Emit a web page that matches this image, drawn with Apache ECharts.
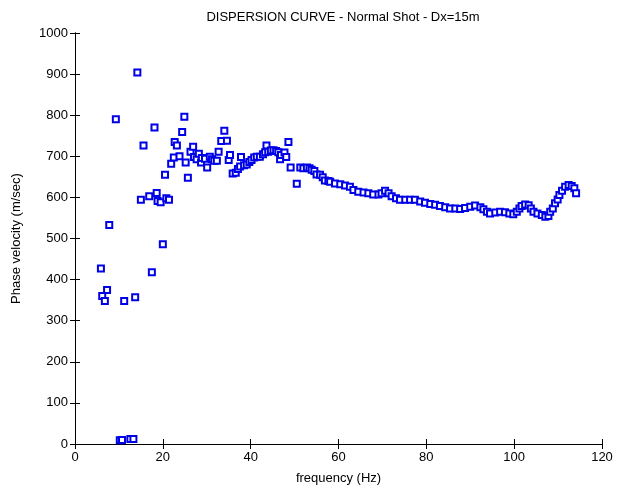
<!DOCTYPE html>
<html>
<head>
    <meta charset="utf-8">
    <script src="https://cdn.jsdelivr.net/npm/echarts@6/dist/echarts.min.js"></script>
</head>
<body style="margin:0;background:#fff">
    <div id="main" style="width:619px;height:491px"></div>

    <script type="text/javascript">
        // frequency (Hz) / phase velocity (m/sec)
        var freq = [5.9, 6.2, 6.8, 7.3, 7.8, 9.3, 10.2, 10.7, 11.2, 12.6, 13.3, 13.7, 14.2, 15.0, 15.6, 16.9, 17.5, 18.1, 18.6, 18.8,
            19.5, 20.0, 20.5, 20.8, 21.4, 21.9, 22.5, 22.7, 23.2, 23.8, 24.4, 24.9, 25.2, 25.7, 26.3, 26.9, 27.1, 27.7, 28.2, 28.7,
            28.9, 29.6, 30.1, 30.7, 31.2, 31.7, 32.3, 32.7, 33.3, 34.0, 34.6, 35.0, 35.3, 35.9, 36.6, 37.1, 37.6, 37.8, 38.5, 39.1,
            39.7, 40.2, 40.8, 41.4, 42.1, 42.8, 43.3, 43.6, 44.0, 44.6, 45.2, 45.8, 46.3, 46.7, 46.9, 47.7, 48.1, 48.6, 49.1, 50.5,
            51.3, 52.0, 52.8, 53.4, 53.9, 54.5, 55.0, 55.8, 56.4, 56.9, 57.7, 58.1, 59.2, 60.4, 61.5, 62.6, 63.4, 64.5, 65.7, 66.8,
            67.9, 69.1, 69.8, 70.6, 71.4, 72.1, 73.1, 74.0, 75.2, 76.3, 77.4, 78.6, 79.7, 80.9, 82.0, 83.1, 84.3, 85.4, 86.6, 87.7,
            88.8, 90.0, 91.1, 92.3, 93.0, 93.8, 94.5, 95.7, 96.8, 97.9, 98.9, 99.8, 100.6, 101.2, 101.7, 102.5, 103.3, 103.8, 104.4, 105.3,
            106.3, 107.1, 107.8, 108.2, 108.8, 109.3, 109.9, 110.3, 110.9, 111.6, 112.4, 113.1, 113.7, 114.1];
        var velocity = [427, 360, 348, 375, 533, 790, 9, 10, 348, 12, 12, 357, 904, 594, 726, 603, 418, 770, 611, 591,
            588, 486, 655, 598, 594, 682, 697, 735, 726, 700, 759, 796, 685, 648, 711, 723, 698, 693, 706, 685,
            696, 694, 673, 699, 693, 689, 689, 711, 737, 762, 738, 691, 703, 658, 660, 669, 675, 698, 678, 680,
            686, 691, 697, 699, 699, 705, 710, 726, 711, 714, 715, 713, 710, 693, 703, 709, 698, 735, 673, 633,
            673, 671, 673, 671, 667, 664, 656, 655, 649, 641, 640, 638, 634, 632, 629, 626, 618, 614, 612, 610,
            607, 607, 610, 616, 610, 603, 598, 594, 594, 594, 594, 590, 587, 584, 582, 579, 576, 573, 573, 572,
            574, 577, 580, 576, 571, 565, 561, 563, 565, 564, 561, 559, 565, 573, 579, 583, 581, 573, 565, 561,
            557, 553, 555, 565, 573, 586, 595, 606, 616, 626, 630, 628, 622, 610];

        var points = [];
        for (var i = 0; i < freq.length; i++) {
            points.push([freq[i], velocity[i]]);
        }

        var font = 'Liberation Sans';
        var myChart = echarts.init(document.getElementById('main'));
        var frame = {
            lineStyle: { color: '#000', width: 1 }
        };
        var plain = function (v) { return String(v); };
        var option = {
            animation: false,
            backgroundColor: '#fff',
            title: {
                text: 'DISPERSION CURVE - Normal Shot - Dx=15m',
                left: 338, top: 6, textAlign: 'center',
                textStyle: { fontFamily: font, fontSize: 13, fontWeight: 'normal', color: '#000' }
            },
            grid: { left: 75, right: 17, top: 33, bottom: 47 },
            xAxis: [{
                type: 'value', min: 0, max: 120, interval: 20,
                name: 'frequency (Hz)', nameLocation: 'middle', nameGap: 28,
                nameTextStyle: { fontFamily: font, fontSize: 13, color: '#000' },
                axisLine: frame,
                axisTick: { inside: true, length: 5, lineStyle: { color: '#000' } },
                axisLabel: { fontFamily: font, fontSize: 13, color: '#000', margin: 7, formatter: plain },
                splitLine: { show: false }
            }, {
                type: 'value', min: 0, max: 120, interval: 20, position: 'top',
                axisLine: frame,
                axisTick: { inside: true, length: 5, lineStyle: { color: '#000' } },
                axisLabel: { show: false },
                splitLine: { show: false }
            }],
            yAxis: [{
                type: 'value', min: 0, max: 1000, interval: 100,
                name: 'Phase velocity (m/sec)', nameLocation: 'middle', nameGap: 52,
                nameTextStyle: { fontFamily: font, fontSize: 13, color: '#000' },
                axisLine: frame,
                axisTick: { inside: true, length: 5, lineStyle: { color: '#000' } },
                axisLabel: { fontFamily: font, fontSize: 13, color: '#000', margin: 7, formatter: plain },
                splitLine: { show: false }
            }, {
                type: 'value', min: 0, max: 1000, interval: 100, position: 'right',
                axisLine: frame,
                axisTick: { inside: true, length: 5, lineStyle: { color: '#000' } },
                axisLabel: { show: false },
                splitLine: { show: false }
            }],
            series: [{
                type: 'scatter',
                symbol: 'emptyRect',
                symbolSize: 6,
                itemStyle: { color: '#0000e6', borderWidth: 1, opacity: 1 },
                data: points
            }]
        };
        myChart.setOption(option);
    </script>
</body>
</html>
